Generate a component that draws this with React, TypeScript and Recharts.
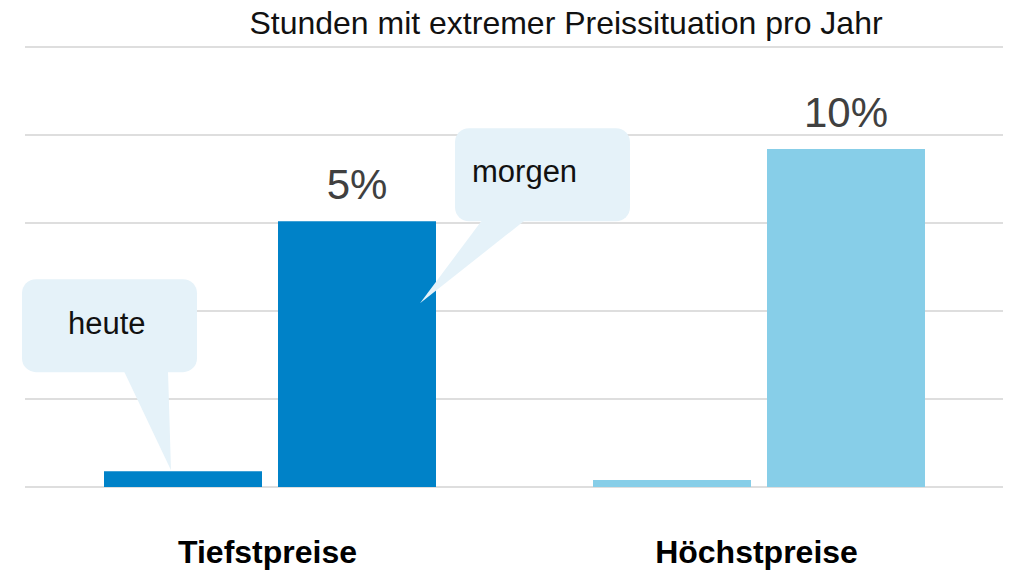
import { BarChart, Bar, XAxis, YAxis, CartesianGrid, Cell, LabelList } from 'recharts'

// Kategorien und Werte (Einheit = ein Gitterabstand)
const categories = ['Tiefstpreise', 'Höchstpreise']
const heute = [0.18, 0.08]
const morgen = [3.02, 3.84]
const morgenLabels = ['5%', '10%']
const yTicks = [0, 1, 2, 3, 4, 5]

const COLORS = ['#0082C8', '#87CEE8']
const BUBBLE = '#E5F2F9'
const FONT = '"Liberation Sans", Arial, Helvetica, sans-serif'

const data = categories.map((c, i) => ({ name: c, heute: heute[i], morgen: morgen[i], label: morgenLabels[i] }))

function Bubble({ rx, ry, base1, base2, tipX, tipY, text, tx, ty }: {
  rx: number; ry: number; base1: number; base2: number; tipX: number; tipY: number; text: string; tx: number; ty: number
}) {
  return (
    <g>
      <rect x={rx} y={ry} width={175} height={93} rx={14} ry={14} fill={BUBBLE} />
      <polygon points={`${base1},${ry + 92} ${base2},${ry + 92} ${tipX},${tipY}`} fill={BUBBLE} />
      <text x={tx} y={ty} fontSize={31} fontFamily={FONT} fill="#111">{text}</text>
    </g>
  )
}

/* eslint-disable @typescript-eslint/no-explicit-any */
function HeuteBubble(props: any) {
  const { x, y, index } = props
  if (index !== 0) return null
  const tipX = x + 67
  const tipY = y - 1
  return <Bubble rx={tipX - 149} ry={tipY - 191} base1={tipX - 47} base2={tipX - 3} tipX={tipX} tipY={tipY} text="heute" tx={tipX - 103} ty={tipY - 136} />
}

function MorgenBubble(props: any) {
  const { x, y, index } = props
  if (index !== 0) return null
  const tipX = x + 142
  const tipY = y + 82
  return <Bubble rx={tipX + 35} ry={tipY - 175} base1={tipX + 62} base2={tipX + 105} tipX={tipX} tipY={tipY} text="morgen" tx={tipX + 52} ty={tipY - 121} />
}

function ValueLabel(props: any) {
  const { x, y, width, index } = props
  return (
    <text x={x + width / 2} y={y - 22} textAnchor="middle" fontSize={42} fontFamily={FONT} fill="#404040">
      {morgenLabels[index]}
    </text>
  )
}

function CategoryTick(props: any) {
  const { x, y, payload } = props
  return (
    <text x={x - 2} y={y + 76} textAnchor="middle" fontSize={32} fontWeight="bold" fontFamily={FONT} fill="#000">
      {payload.value}
    </text>
  )
}
/* eslint-enable @typescript-eslint/no-explicit-any */

export default function App() {
  return (
    <div style={{ position: 'absolute', left: 0, top: 0, width: 1015, height: 573, background: '#fff' }}>
      <div style={{
        position: 'absolute', left: 0, width: 1132, top: 5, textAlign: 'center',
        fontFamily: FONT, fontSize: 32, color: '#111', lineHeight: '37px'
      }}>
        Stunden mit extremer Preissituation pro Jahr
      </div>
      <BarChart width={1015} height={573} data={data} margin={{ top: 47, right: 12, bottom: 0, left: 25 }} barSize={158} barGap={16}>
        <CartesianGrid vertical={false} stroke="#dedede" strokeWidth={2} />
        <YAxis hide domain={[0, 5]} ticks={yTicks} />
        <XAxis dataKey="name" axisLine={false} tickLine={false} tickSize={0} tickMargin={0} height={86} tick={<CategoryTick />} />
        <Bar dataKey="heute" isAnimationActive={false}>
          {data.map((_, i) => <Cell key={i} fill={COLORS[i]} />)}
          <LabelList dataKey="heute" content={<HeuteBubble />} />
        </Bar>
        <Bar dataKey="morgen" isAnimationActive={false}>
          {data.map((_, i) => <Cell key={i} fill={COLORS[i]} />)}
          <LabelList dataKey="morgen" content={<ValueLabel />} />
          <LabelList dataKey="morgen" content={<MorgenBubble />} />
        </Bar>
      </BarChart>
    </div>
  )
}
